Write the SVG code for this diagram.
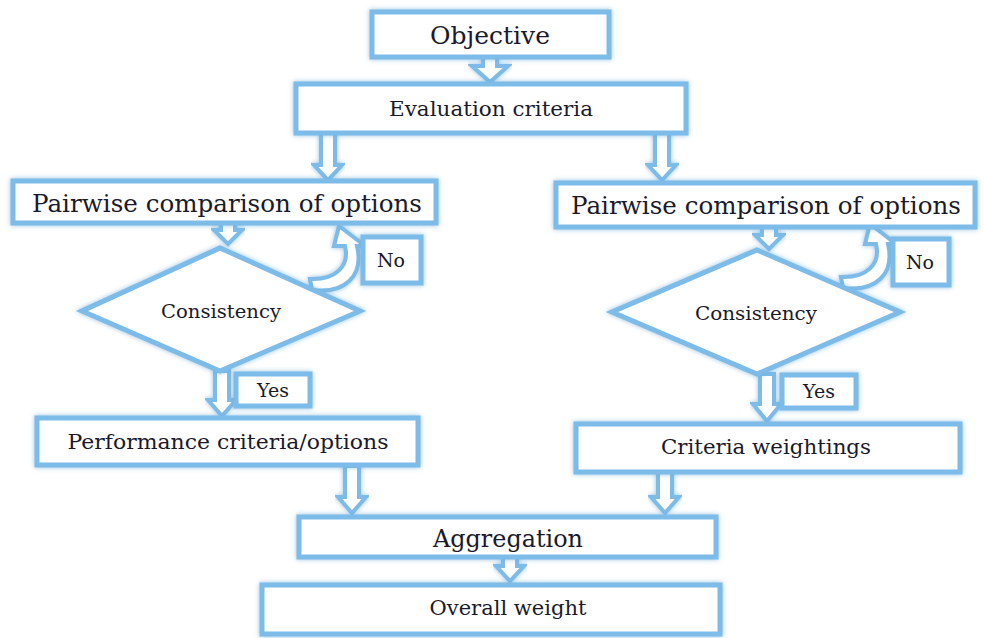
<svg xmlns="http://www.w3.org/2000/svg" width="984" height="638" viewBox="0 0 984 638">
<defs>
<filter id="glow" x="-10%" y="-20%" width="120%" height="140%">
<feGaussianBlur in="SourceAlpha" stdDeviation="2.5" result="b"/>
<feFlood flood-color="#6aa9d8" flood-opacity="0.7"/>
<feComposite in2="b" operator="in" result="s"/>
<feMerge><feMergeNode in="s"/><feMergeNode in="SourceGraphic"/></feMerge>
</filter>
<style>
.box{fill:#fff;stroke:#7dbbe8;stroke-width:5;filter:url(#glow)}
.arr{fill:#fff;stroke:#7dbbe8;stroke-width:4;stroke-linejoin:miter;filter:url(#glow)}
.t{font-family:'DejaVu Serif','Liberation Serif',serif;fill:#1a1a2a;text-anchor:middle}
</style>
</defs>
<rect width="984" height="638" fill="#fff"/>
<g id="connectors">
<polygon class="arr" points="483,57 497,57 497,66 508,66 490,82 472,66 483,66"/>
<polygon class="arr" points="321,133 335,133 335,165 342,165 328,180 314,165 321,165"/>
<polygon class="arr" points="655,133 669,133 669,165 676,165 662,180 648,165 655,165"/>
<polygon class="arr" points="221,222 235,222 235,230 242,230 228,244 214,230 221,230"/>
<polygon class="arr" points="762,227 776,227 776,235 783,235 769,249 755,235 762,235"/>
<polygon class="arr" points="215,371 229,371 229,400 236,400 222,416 208,400 215,400"/>
<polygon class="arr" points="760,374 774,374 774,404 781,404 767,421 753,404 760,404"/>
<polygon class="arr" points="345,466 359,466 359,497 366,497 352,513 338,497 345,497"/>
<polygon class="arr" points="658,472 672,472 672,497 679,497 665,513 651,497 658,497"/>
<polygon class="arr" points="503,557 517,557 517,566 524,566 510,581 496,566 503,566"/>
<path class="arr" d="M312,290 C345,294 364,276 357,246 L365,246 L339,226 L334,246 L345,246 C350,266 336,280 310,279 Z"/>
<path class="arr" d="M843,288 C876,292 895,274 888,244 L896,244 L870,224 L865,244 L876,244 C881,264 867,278 841,277 Z"/>
</g>
<g id="objective"><rect class="box" x="372" y="12" width="237" height="45"/><text class="t" x="490" y="44" font-size="25">Objective</text></g>
<g id="evaluation"><rect class="box" x="296" y="84" width="390" height="49"/><text class="t" x="491" y="116" font-size="20" textLength="204" lengthAdjust="spacingAndGlyphs">Evaluation  criteria</text></g>
<g id="pairwise-left"><rect class="box" x="13" y="181" width="423" height="42"/><text class="t" x="227" y="212" font-size="25" textLength="390" lengthAdjust="spacingAndGlyphs">Pairwise comparison of options</text></g>
<g id="pairwise-right"><rect class="box" x="556" y="183" width="419" height="44"/><text class="t" x="766" y="214" font-size="25" textLength="390" lengthAdjust="spacingAndGlyphs">Pairwise comparison of options</text></g>
<g id="consistency-left"><polygon class="box" points="220,248 360,311 220,371 82,311"/><text class="t" x="221" y="318" font-size="18" textLength="120" lengthAdjust="spacingAndGlyphs">Consistency</text></g>
<g id="consistency-right"><polygon class="box" points="757,250 900,312 757,374 612,312"/><text class="t" x="756" y="320" font-size="18" textLength="122" lengthAdjust="spacingAndGlyphs">Consistency</text></g>
<g id="no-left"><rect class="box" x="363" y="237" width="58" height="46"/><text class="t" x="391" y="267" font-size="19">No</text></g>
<g id="no-right"><rect class="box" x="893" y="239" width="56" height="46"/><text class="t" x="920" y="269" font-size="19">No</text></g>
<g id="yes-left"><rect class="box" x="236" y="374" width="74" height="32"/><text class="t" x="273" y="397" font-size="19">Yes</text></g>
<g id="yes-right"><rect class="box" x="782" y="375" width="74" height="33"/><text class="t" x="819" y="398" font-size="19">Yes</text></g>
<g id="performance"><rect class="box" x="37" y="418" width="381" height="47"/><text class="t" x="228" y="449" font-size="21" textLength="321" lengthAdjust="spacingAndGlyphs">Performance criteria/options</text></g>
<g id="criteria-weightings"><rect class="box" x="576" y="424" width="384" height="48"/><text class="t" x="766" y="454" font-size="21" textLength="210" lengthAdjust="spacingAndGlyphs">Criteria weightings</text></g>
<g id="aggregation"><rect class="box" x="299" y="517" width="417" height="40"/><text class="t" x="508" y="547" font-size="25" textLength="150" lengthAdjust="spacingAndGlyphs">Aggregation</text></g>
<g id="overall"><rect class="box" x="262" y="585" width="458" height="49"/><text class="t" x="508" y="615" font-size="20" textLength="157" lengthAdjust="spacingAndGlyphs">Overall weight</text></g>
</svg>
